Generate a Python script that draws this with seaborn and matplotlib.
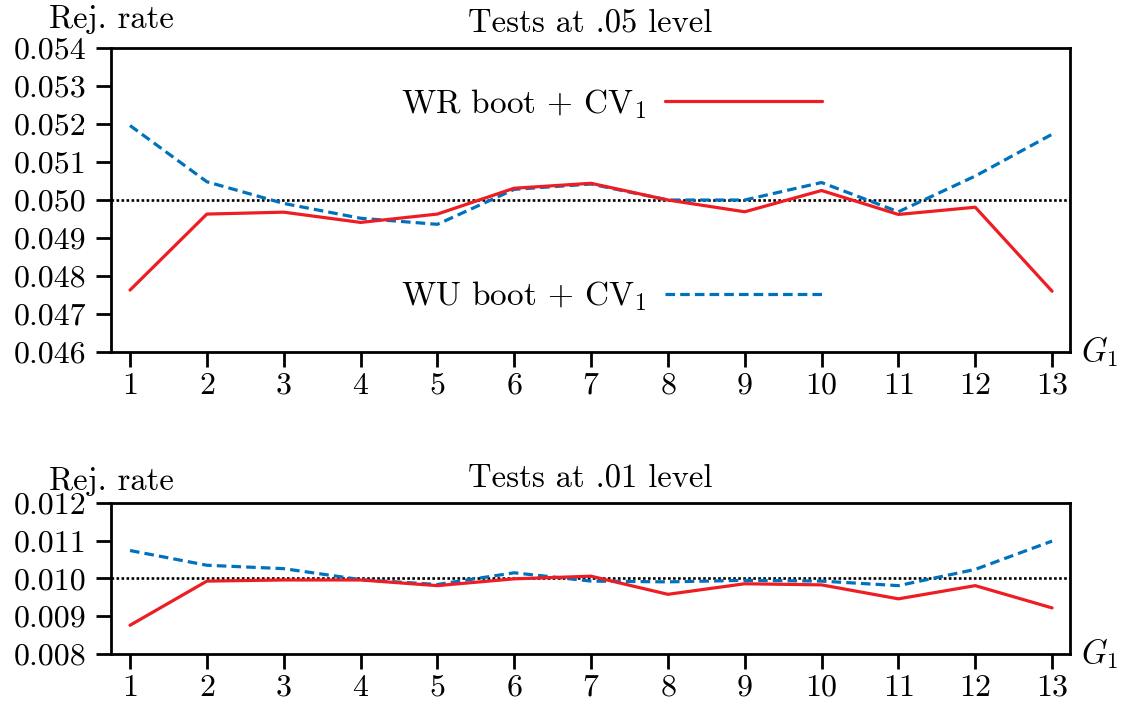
import pandas as pd
import numpy as np
import matplotlib
matplotlib.use("Agg")
import matplotlib.pyplot as plt
import seaborn as sns
from matplotlib.ticker import FormatStrFormatter

# values
g1 = [1, 2, 3, 4, 5, 6, 7, 8, 9, 10, 11, 12, 13]
wr_05 = [0.04763, 0.04963, 0.04968, 0.04941, 0.04963, 0.05031, 0.05044,
         0.05000, 0.04969, 0.05025, 0.04962, 0.04981, 0.04760]
wu_05 = [0.05196, 0.05048, 0.04991, 0.04952, 0.04936, 0.05028, 0.05042,
         0.05000, 0.05000, 0.05046, 0.04969, 0.05063, 0.05173]
wr_01 = [0.00876, 0.00993, 0.00996, 0.00996, 0.00981, 0.00999, 0.01006,
         0.00958, 0.00986, 0.00983, 0.00946, 0.00981, 0.00922]
wu_01 = [0.01074, 0.01035, 0.01026, 0.00997, 0.00984, 0.01015, 0.00993,
         0.00991, 0.00995, 0.00993, 0.00981, 0.01024, 0.01099]
levels = [0.05, 0.01]
yticks_05 = [0.046, 0.047, 0.048, 0.049, 0.050, 0.051, 0.052, 0.053, 0.054]
yticks_01 = [0.008, 0.009, 0.010, 0.011, 0.012]
titles = ["Tests at .05 level", "Tests at .01 level"]
lab_wr = r"WR boot + CV$_1$"
lab_wu = r"WU boot + CV$_1$"

RED = "#EE1D23"
BLUE = "#0072BD"

sns.set_style("ticks")
plt.rcParams["font.family"] = ["cmr10", "DejaVu Serif"]
plt.rcParams["mathtext.fontset"] = "cm"
plt.rcParams["axes.formatter.use_mathtext"] = True
plt.rcParams["font.size"] = 23
for k in ["text.color", "axes.labelcolor", "xtick.color", "ytick.color", "axes.edgecolor"]:
    plt.rcParams[k] = "black"

fig = plt.figure(figsize=(11.24, 7.06), dpi=100)
ax1 = fig.add_axes([0.0988, 0.5014, 0.8532, 0.4306])
ax2 = fig.add_axes([0.0988, 0.0737, 0.8532, 0.2139])

df05 = pd.DataFrame({"G1": g1, "WR": wr_05, "WU": wu_05})
df01 = pd.DataFrame({"G1": g1, "WR": wr_01, "WU": wu_01})

for ax, df, lev, yt, title in [(ax1, df05, levels[0], yticks_05, titles[0]),
                               (ax2, df01, levels[1], yticks_01, titles[1])]:
    ax.axhline(lev, color="black", lw=1.9, linestyle=(0, (1.0, 0.9)), zorder=1)
    sns.lineplot(data=df, x="G1", y="WR", ax=ax, color=RED, lw=2.3, label=lab_wr, zorder=3)
    sns.lineplot(data=df, x="G1", y="WU", ax=ax, color=BLUE, lw=2.3,
                 linestyle=(0, (3.0, 1.6)), label=lab_wu, zorder=2)
    ax.set_xlim(0.753, 13.234)
    ax.set_ylim(yt[0], yt[-1])
    ax.set_xticks(g1)
    ax.set_yticks(yt)
    ax.yaxis.set_major_formatter(FormatStrFormatter("%.3f"))
    ax.set_xlabel("")
    ax.set_ylabel("")
    for s in ax.spines.values():
        s.set_linewidth(2.0)
        s.set_color("black")
        s.set_visible(True)
    ax.tick_params(axis="both", direction="out", length=10.5, width=2.0, labelsize=23,
                   color="black", labelcolor="black")
    ax.tick_params(axis="y", pad=7)
    ax.tick_params(axis="x", pad=4)
    ax.set_title(title, fontsize=23.5, pad=12, color="black")
    ax.text(0.0, 1.045, "Rej. rate", transform=ax.transAxes, ha="center", va="bottom",
            fontsize=23.5, color="black")
    ax.text(1.011, 0.0, r"$G_1$", transform=ax.transAxes, ha="left", va="center",
            fontsize=23.5, color="black")
    ax.get_legend().remove()

# legends in the top panel only
h, l = ax1.get_legend_handles_labels()
leg1 = ax1.legend([h[0]], [l[0]], loc="center right", bbox_to_anchor=(0.741, 0.816),
                  frameon=False, markerfirst=False, handlelength=4.7, handletextpad=0.55,
                  borderpad=0, borderaxespad=0, fontsize=24)
ax1.add_artist(leg1)
ax1.legend([h[1]], [l[1]], loc="center right", bbox_to_anchor=(0.741, 0.184),
           frameon=False, markerfirst=False, handlelength=4.7, handletextpad=0.55,
           borderpad=0, borderaxespad=0, fontsize=24)

fig.savefig("out.png", dpi=100)
